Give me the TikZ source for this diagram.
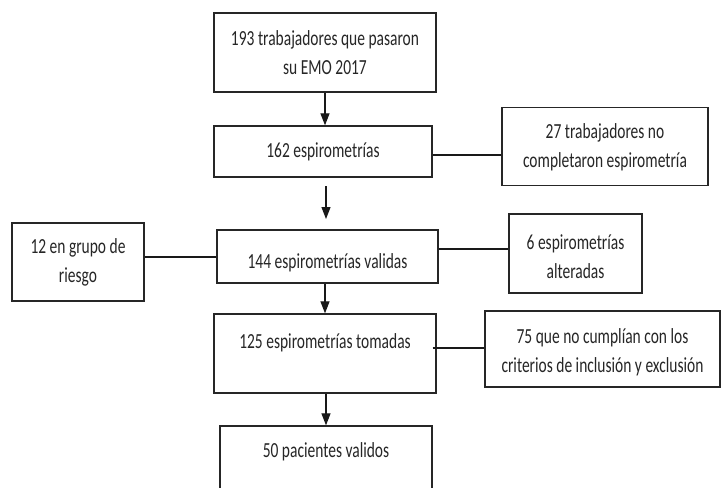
\documentclass[tikz,border=0pt]{standalone}
\usepackage{fontspec}
\setmainfont[FakeStretch=0.72]{Carlito}
\usetikzlibrary{arrows.meta,calc}
\begin{document}
\begin{tikzpicture}[x=1pt,y=-1pt,
  flowbox/.style={draw=black!85,line width=1.3pt,rectangle,inner sep=0pt,fill=white},
  flowtext/.style={text=black!85,font=\fontsize{21.5}{29}\selectfont,align=center,inner sep=0pt},
  link/.style={draw=black!90,line width=1.2pt},
  flowarrow/.style={link,-{Triangle[width=9pt,length=12pt]}}]
\useasboundingbox (0,0) rectangle (725,487);
% boxes
\node[flowbox,minimum width=222pt,minimum height=79pt] (b1) at (325,52.5) {};
\node[flowbox,minimum width=218pt,minimum height=51pt] (b2) at (323,151.5) {};
\node[flowbox,minimum width=206pt,minimum height=78pt] (b27) at (605,146.5) {};
\node[flowbox,minimum width=221pt,minimum height=53pt] (b3) at (327.5,256.5) {};
\node[flowbox,minimum width=132pt,minimum height=78pt] (b12) at (78,262) {};
\node[flowbox,minimum width=133pt,minimum height=79pt] (b6) at (575.5,253.5) {};
\node[flowbox,minimum width=222pt,minimum height=79pt] (b4) at (325,353.5) {};
\node[flowbox,minimum width=235pt,minimum height=76pt] (b75) at (602.5,349) {};
\node[flowbox,minimum width=212pt,minimum height=90pt] (b5) at (326,471) {};
% texts
\node[flowtext] (t1) at (325,53) {193 trabajadores que pasaron\\su EMO 2017};
\node[flowtext] (t2) at (323,152) {162 espirometrías};
\node[flowtext] (t27) at (605,147) {27 trabajadores no\\completaron espirometría};
\node[flowtext] (t3) at (327.5,263) {144 espirometrías validas};
\node[flowtext] (t12) at (78,262.5) {12 en grupo de\\riesgo};
\node[flowtext] (t6) at (575.5,257) {6 espirometrías\\alteradas};
\node[flowtext] (t4) at (325,343) {125 espirometrías tomadas};
\node[flowtext] (t75) at (602.5,352) {75 que no cumplían con los\\criterios de inclusión y exclusión};
\node[flowtext] (t5) at (326,452) {50 pacientes validos};
% free arrow between b2 and b3
\coordinate (fa1) at (326,186);
\coordinate (fa2) at (326,219);
% connectors
\draw[flowarrow] (b1.south) -- (b1.south |- b2.north);
\draw[flowarrow] (fa1) -- (fa2);
\draw[flowarrow] (b3.south -| 325,0) -- (b4.north -| 325,0);
\draw[flowarrow] (b4.south -| 326,0) -- (b5.north -| 326,0);
\draw[link] ([yshift=-3.5pt]b2.east) -- ([yshift=-3.5pt]b2.east -| b27.west);
\draw[link] (b12.east |- 0,257) -- (b3.west |- 0,257);
\draw[link] (b3.east |- 0,249) -- (b6.west |- 0,249);
\draw[link] ([xshift=-4pt]b4.east |- 0,348) -- (b75.west |- 0,348);
\end{tikzpicture}
\end{document}
